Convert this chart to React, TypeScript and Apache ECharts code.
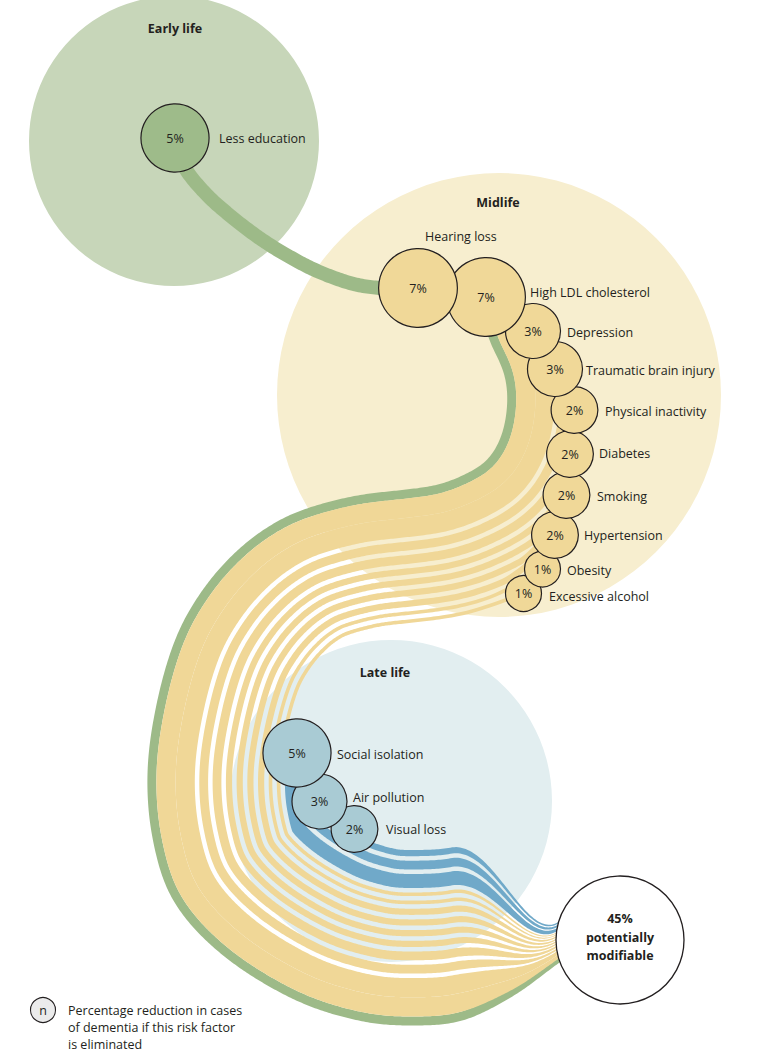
import React, { useEffect, useRef } from "react";
import * as echarts from "echarts";

// ---------------- data ----------------
const stageNames = ["Early life", "Midlife", "Late life"];
const factorNames = [
  "Less education",
  "Hearing loss",
  "High LDL cholesterol",
  "Depression",
  "Traumatic brain injury",
  "Physical inactivity",
  "Diabetes",
  "Smoking",
  "Hypertension",
  "Obesity",
  "Excessive alcohol",
  "Social isolation",
  "Air pollution",
  "Visual loss",
];
const factorValues = [5, 7, 7, 3, 3, 2, 2, 2, 2, 1, 1, 5, 3, 2];
const factorStage = [0, 1, 1, 1, 1, 1, 1, 1, 1, 1, 1, 2, 2, 2];
const totalValue = 45;
const totalCaption = ["potentially", "modifiable"];
const legendSymbol = "n";
const legendLines = [
  "Percentage reduction in cases",
  "of dementia if this risk factor",
  "is eliminated",
];

// ---------------- layout (pixel positions) ----------------
const STAGE_CIRCLES = [
  [174, 141, 145],
  [499, 395, 222],
  [391, 801, 161],
];
const STAGE_TITLES = [
  [175, 28],
  [498, 202],
  [385, 672],
];
const FACTOR_CENTERS = [
  [175, 138],
  [418, 288],
  [486, 297],
  [533, 331],
  [555, 369],
  [574.5, 410],
  [570, 454],
  [566.5, 495],
  [555, 535],
  [542.5, 569],
  [523.5, 593.5],
  [297, 753],
  [319.5, 801.5],
  [354.5, 829],
];
const LABEL_ANCHORS = [
  [219, 138],
  [425, 236],
  [530, 292],
  [567, 332],
  [586, 370],
  [605, 411],
  [599, 453],
  [597, 496],
  [584, 535],
  [567, 570],
  [549, 596],
  [337, 754],
  [353, 797],
  [386, 829],
];
const TOTAL_CIRCLE = [620, 940, 64];
const LEGEND_POS = [43, 1010];
const LEGEND_LINE_GAP = 17;
const EARLY_PATH = [
  [175, 140],
  [185, 168],
  [207, 195],
  [233, 218],
  [258, 237],
  [283, 253],
  [315, 270],
  [350, 283],
  [380, 288],
  [418, 289],
];
const SPINE_PATH = [
  [486, 298],
  [492, 335],
  [508, 370],
  [512, 402],
  [506, 437],
  [491, 463],
  [470, 477],
  [440, 489],
  [407, 494],
  [357, 500],
  [307, 513],
  [273, 529],
  [240, 554],
  [208, 590],
  [181, 637],
  [162, 700],
  [152, 770],
  [157, 838],
  [178, 900],
  [227, 953],
  [297, 996],
  [363, 1017],
  [417, 1021],
  [463, 1016],
  [513, 992],
  [547, 968],
  [576, 947],
  [606, 927],
];

const COLORS = {
  stageBg: ["#c7d6b9", "#f7eecf", "#e2eef0"],
  circle: ["#9ebb8a", "#f0d898", "#a9cbd4"],
  flow: ["#9dba88", "#f0d797", "#70a9c9"],
  ink: "#231f20",
};
const FONT = "'Open Sans', 'DejaVu Sans', sans-serif";
const GREEN_HALF = 4.5;
const EARLY_WIDTH = 14;
const GAP = 4.5;
const GAP_BEFORE = [0, 0, 0, GAP, GAP, GAP, GAP, GAP, GAP, GAP, GAP, GAP, GAP, GAP];

const radiusOf = (v: number) => 5 + 13 * Math.sqrt(v);
const widthOf = (v: number) => 2.6 * v + 1;

// ---------------- geometry helpers ----------------
const smoothstep = (t: number) => {
  const x = Math.max(0, Math.min(1, t));
  return x * x * (3 - 2 * x);
};

function catmullRom(pts: number[][], seg: number): number[][] {
  const out: number[][] = [];
  for (let i = 0; i < pts.length - 1; i++) {
    const p0 = pts[Math.max(0, i - 1)];
    const p1 = pts[i];
    const p2 = pts[i + 1];
    const p3 = pts[Math.min(pts.length - 1, i + 2)];
    for (let k = 0; k < seg; k++) {
      const t = k / seg;
      const t2 = t * t;
      const t3 = t2 * t;
      const f = (a: number, b: number, c: number, d: number) =>
        0.5 * (2 * b + (-a + c) * t + (2 * a - 5 * b + 4 * c - d) * t2 + (-a + 3 * b - 3 * c + d) * t3);
      out.push([f(p0[0], p1[0], p2[0], p3[0]), f(p0[1], p1[1], p2[1], p3[1])]);
    }
  }
  out.push(pts[pts.length - 1].slice());
  return out;
}

function resample(pts: number[][], step: number): number[][] {
  const out: number[][] = [[pts[0][0], pts[0][1]]];
  let need = step;
  for (let i = 1; i < pts.length; i++) {
    let ax = pts[i - 1][0];
    let ay = pts[i - 1][1];
    const bx = pts[i][0];
    const by = pts[i][1];
    let segLen = Math.hypot(bx - ax, by - ay);
    while (segLen >= need && segLen > 0) {
      const t = need / segLen;
      ax = ax + (bx - ax) * t;
      ay = ay + (by - ay) * t;
      out.push([ax, ay]);
      segLen -= need;
      need = step;
    }
    need -= segLen;
  }
  const last = pts[pts.length - 1];
  out.push([last[0], last[1]]);
  return out;
}

function smoothPts(pts: number[][], w: number): number[][] {
  const N = pts.length;
  const out: number[][] = [];
  for (let j = 0; j < N; j++) {
    const k = Math.min(w, j, N - 1 - j);
    let sx = 0;
    let sy = 0;
    for (let q = -k; q <= k; q++) {
      sx += pts[j + q][0];
      sy += pts[j + q][1];
    }
    out.push([sx / (2 * k + 1), sy / (2 * k + 1)]);
  }
  return out;
}

function buildFlows(): number[][][][] {
  const G = smoothPts(smoothPts(resample(catmullRom(SPINE_PATH, 30), 1), 12), 8);
  const N = G.length;
  const nx: number[] = [];
  const ny: number[] = [];
  for (let j = 0; j < N; j++) {
    const a = G[Math.max(0, j - 3)];
    const b = G[Math.min(N - 1, j + 3)];
    const tx = b[0] - a[0];
    const ty = b[1] - a[1];
    const len = Math.hypot(tx, ty) || 1;
    nx.push(ty / len);
    ny.push(-tx / len);
  }
  const [tcx, tcy, tr] = TOTAL_CIRCLE;
  let jEdge = N - 1;
  for (let j = 0; j < N; j++) {
    if (Math.hypot(G[j][0] - tcx, G[j][1] - tcy) < tr) {
      jEdge = j;
      break;
    }
  }
  // lowest point of the lower arc: beyond it the lateral direction is frozen
  let jFreeze = Math.floor(N / 2);
  for (let j = Math.floor(N / 2); j < jEdge; j++) {
    if (G[j][1] > G[jFreeze][1]) jFreeze = j;
  }
  const fnx = nx[jFreeze];
  const fny = ny[jFreeze];
  const jc = Math.max(jFreeze, jEdge - 125);
  const comp = (j: number) => {
    if (j <= jc) return 1;
    if (j <= jEdge) return 1 - (1 - 0.22) * smoothstep((j - jc) / (jEdge - jc));
    return 0.22 - 0.12 * ((j - jEdge) / Math.max(1, N - 1 - jEdge));
  };

  // lateral offsets from values
  const bands: number[][] = [[-GREEN_HALF, GREEN_HALF]];
  let cur = GREEN_HALF;
  for (let i = 1; i < factorValues.length; i++) {
    cur += GAP_BEFORE[i];
    const a = cur;
    cur += widthOf(factorValues[i]);
    bands.push([a, cur]);
  }

  const polys: number[][][][] = [];
  {
    const early = resample(catmullRom(EARLY_PATH, 20), 2);
    const left: number[][] = [];
    const right: number[][] = [];
    for (let j = 0; j < N; j += 2) {
      const c = comp(j);
      const hh = GREEN_HALF * (0.55 + 0.45 * c);
      left.push([G[j][0] + nx[j] * hh, G[j][1] + ny[j] * hh]);
      right.push([G[j][0] - nx[j] * hh, G[j][1] - ny[j] * hh]);
    }
    polys.push([early, left.concat(right.reverse())]);
  }
  for (let i = 1; i < factorValues.length; i++) {
    const [a, b] = bands[i];
    const m = (a + b) / 2;
    const h = (b - a) / 2;
    const C = FACTOR_CENTERS[i];
    let best = 0;
    let bd = Infinity;
    for (let j = 0; j < jFreeze; j++) {
      const px = G[j][0] + nx[j] * m;
      const py = G[j][1] + ny[j] * m;
      const d = (px - C[0]) ** 2 + (py - C[1]) ** 2;
      if (d < bd) {
        bd = d;
        best = j;
      }
    }
    const L = 34;
    const left: number[][] = [];
    const right: number[][] = [];
    for (let j = best; j < N; j += 2) {
      const c = comp(j);
      const mm = m * c;
      const hh = h * c;
      const ux = j > jFreeze ? fnx : nx[j];
      const uy = j > jFreeze ? fny : ny[j];
      const bx = G[j][0] + ux * mm;
      const by = G[j][1] + uy * mm;
      const t = smoothstep((j - best) / L);
      const cx = C[0] + (bx - C[0]) * t;
      const cy = C[1] + (by - C[1]) * t;
      left.push([cx + ux * hh, cy + uy * hh]);
      right.push([cx - ux * hh, cy - uy * hh]);
    }
    polys.push([left.concat(right.reverse())]);
  }
  return polys;
}

function txt(
  x: number,
  y: number,
  text: string,
  o: { bold?: boolean; size?: number; align?: string; z2?: number } = {}
) {
  const align = o.align || "left";
  return {
    type: "text",
    z2: o.z2 ?? 300,
    style: {
      text,
      x,
      y,
      fill: COLORS.ink,
      font: `${o.bold ? "bold " : ""}${o.size ?? 12.5}px ${FONT}`,
      textAlign: align,
      textVerticalAlign: "middle",
      align,
      verticalAlign: "middle",
    },
  };
}

function buildOption() {
  const flows = buildFlows();
  const ptsToPx = (api: any, pts: number[][]) => pts.map((p) => api.coord(p));

  return {
    animation: false,
    grid: { left: 0, right: 0, top: 0, bottom: 0 },
    xAxis: { type: "value", min: 0, max: 757, show: false },
    yAxis: { type: "value", min: 0, max: 1052, inverse: true, show: false },
    series: [
      {
        type: "custom",
        name: "stages",
        z: 1,
        data: stageNames.map((_, i) => [i, 0]),
        renderItem: (_p: any, api: any) => {
          const i = api.value(0) as number;
          const [cx, cy, r] = STAGE_CIRCLES[i];
          const c = api.coord([cx, cy]);
          const s = api.size([1, 1])[0];
          const t = api.coord(STAGE_TITLES[i]);
          return {
            type: "group",
            children: [
              { type: "circle", z2: 1, shape: { cx: c[0], cy: c[1], r: r * s }, style: { fill: COLORS.stageBg[i] } },
              txt(t[0], t[1], stageNames[i], { bold: true, align: "center" }),
            ],
          };
        },
      },
      {
        type: "custom",
        name: "flows",
        z: 2,
        data: factorValues.map((v, i) => [i, v]),
        renderItem: (_p: any, api: any) => {
          const i = api.value(0) as number;
          const col = COLORS.flow[factorStage[i]];
          const s = api.size([1, 1])[0];
          if (i === 0) {
            const [early, main] = flows[0];
            return {
              type: "group",
              children: [
                {
                  type: "polyline",
                  z2: 0,
                  shape: { points: ptsToPx(api, early) },
                  style: { stroke: col, lineWidth: EARLY_WIDTH * s, fill: null, lineCap: "butt" },
                },
                { type: "polygon", z2: 0, shape: { points: ptsToPx(api, main) }, style: { fill: col } },
              ],
            };
          }
          return {
            type: "polygon",
            z2: i,
            shape: { points: ptsToPx(api, flows[i][0]) },
            style: { fill: col },
          };
        },
      },
      {
        type: "custom",
        name: "factors",
        z: 3,
        data: factorValues.map((v, i) => [i, v]),
        renderItem: (_p: any, api: any) => {
          const i = api.value(0) as number;
          const v = api.value(1) as number;
          const c = api.coord(FACTOR_CENTERS[i]);
          const s = api.size([1, 1])[0];
          const la = api.coord(LABEL_ANCHORS[i]);
          return {
            type: "group",
            children: [
              {
                type: "circle",
                z2: 100 - i,
                shape: { cx: c[0], cy: c[1], r: radiusOf(v) * s },
                style: { fill: COLORS.circle[factorStage[i]], stroke: COLORS.ink, lineWidth: 1.2 },
              },
              txt(c[0], c[1], `${v}%`, { align: "center" }),
              txt(la[0], la[1], factorNames[i]),
            ],
          };
        },
      },
      {
        type: "custom",
        name: "total",
        z: 4,
        data: [[0, totalValue]],
        renderItem: (_p: any, api: any) => {
          const v = api.value(1) as number;
          const [cx, cy, r] = TOTAL_CIRCLE;
          const c = api.coord([cx, cy]);
          const s = api.size([1, 1])[0];
          return {
            type: "group",
            children: [
              {
                type: "circle",
                z2: 1,
                shape: { cx: c[0], cy: c[1], r: r * s },
                style: { fill: "#ffffff", stroke: COLORS.ink, lineWidth: 1.3 },
              },
              txt(c[0], c[1] - 22 * s, `${v}%`, { bold: true, align: "center" }),
              txt(c[0], c[1] - 3 * s, totalCaption[0], { bold: true, align: "center" }),
              txt(c[0], c[1] + 15 * s, totalCaption[1], { bold: true, align: "center" }),
            ],
          };
        },
      },
      {
        type: "custom",
        name: "legend",
        z: 5,
        data: [[0, 0]],
        renderItem: (_p: any, api: any) => {
          const c = api.coord(LEGEND_POS);
          const s = api.size([1, 1])[0];
          return {
            type: "group",
            children: [
              {
                type: "circle",
                z2: 1,
                shape: { cx: c[0], cy: c[1], r: 12.5 * s },
                style: { fill: "#ebebeb", stroke: COLORS.ink, lineWidth: 1.1 },
              },
              txt(c[0], c[1], legendSymbol, { align: "center" }),
              ...legendLines.map((l, k) => txt(c[0] + 25 * s, c[1] + k * LEGEND_LINE_GAP * s, l)),
            ],
          };
        },
      },
    ],
  };
}

export default function App() {
  const ref = useRef<HTMLDivElement>(null);
  useEffect(() => {
    if (!ref.current) return;
    const chart = echarts.init(ref.current, undefined, { renderer: "svg" });
    chart.setOption(buildOption() as any);
    return () => chart.dispose();
  }, []);
  return (
    <div
      ref={ref}
      style={{ position: "absolute", left: 0, top: 0, width: 757, height: 1052, background: "#ffffff" }}
    />
  );
}
